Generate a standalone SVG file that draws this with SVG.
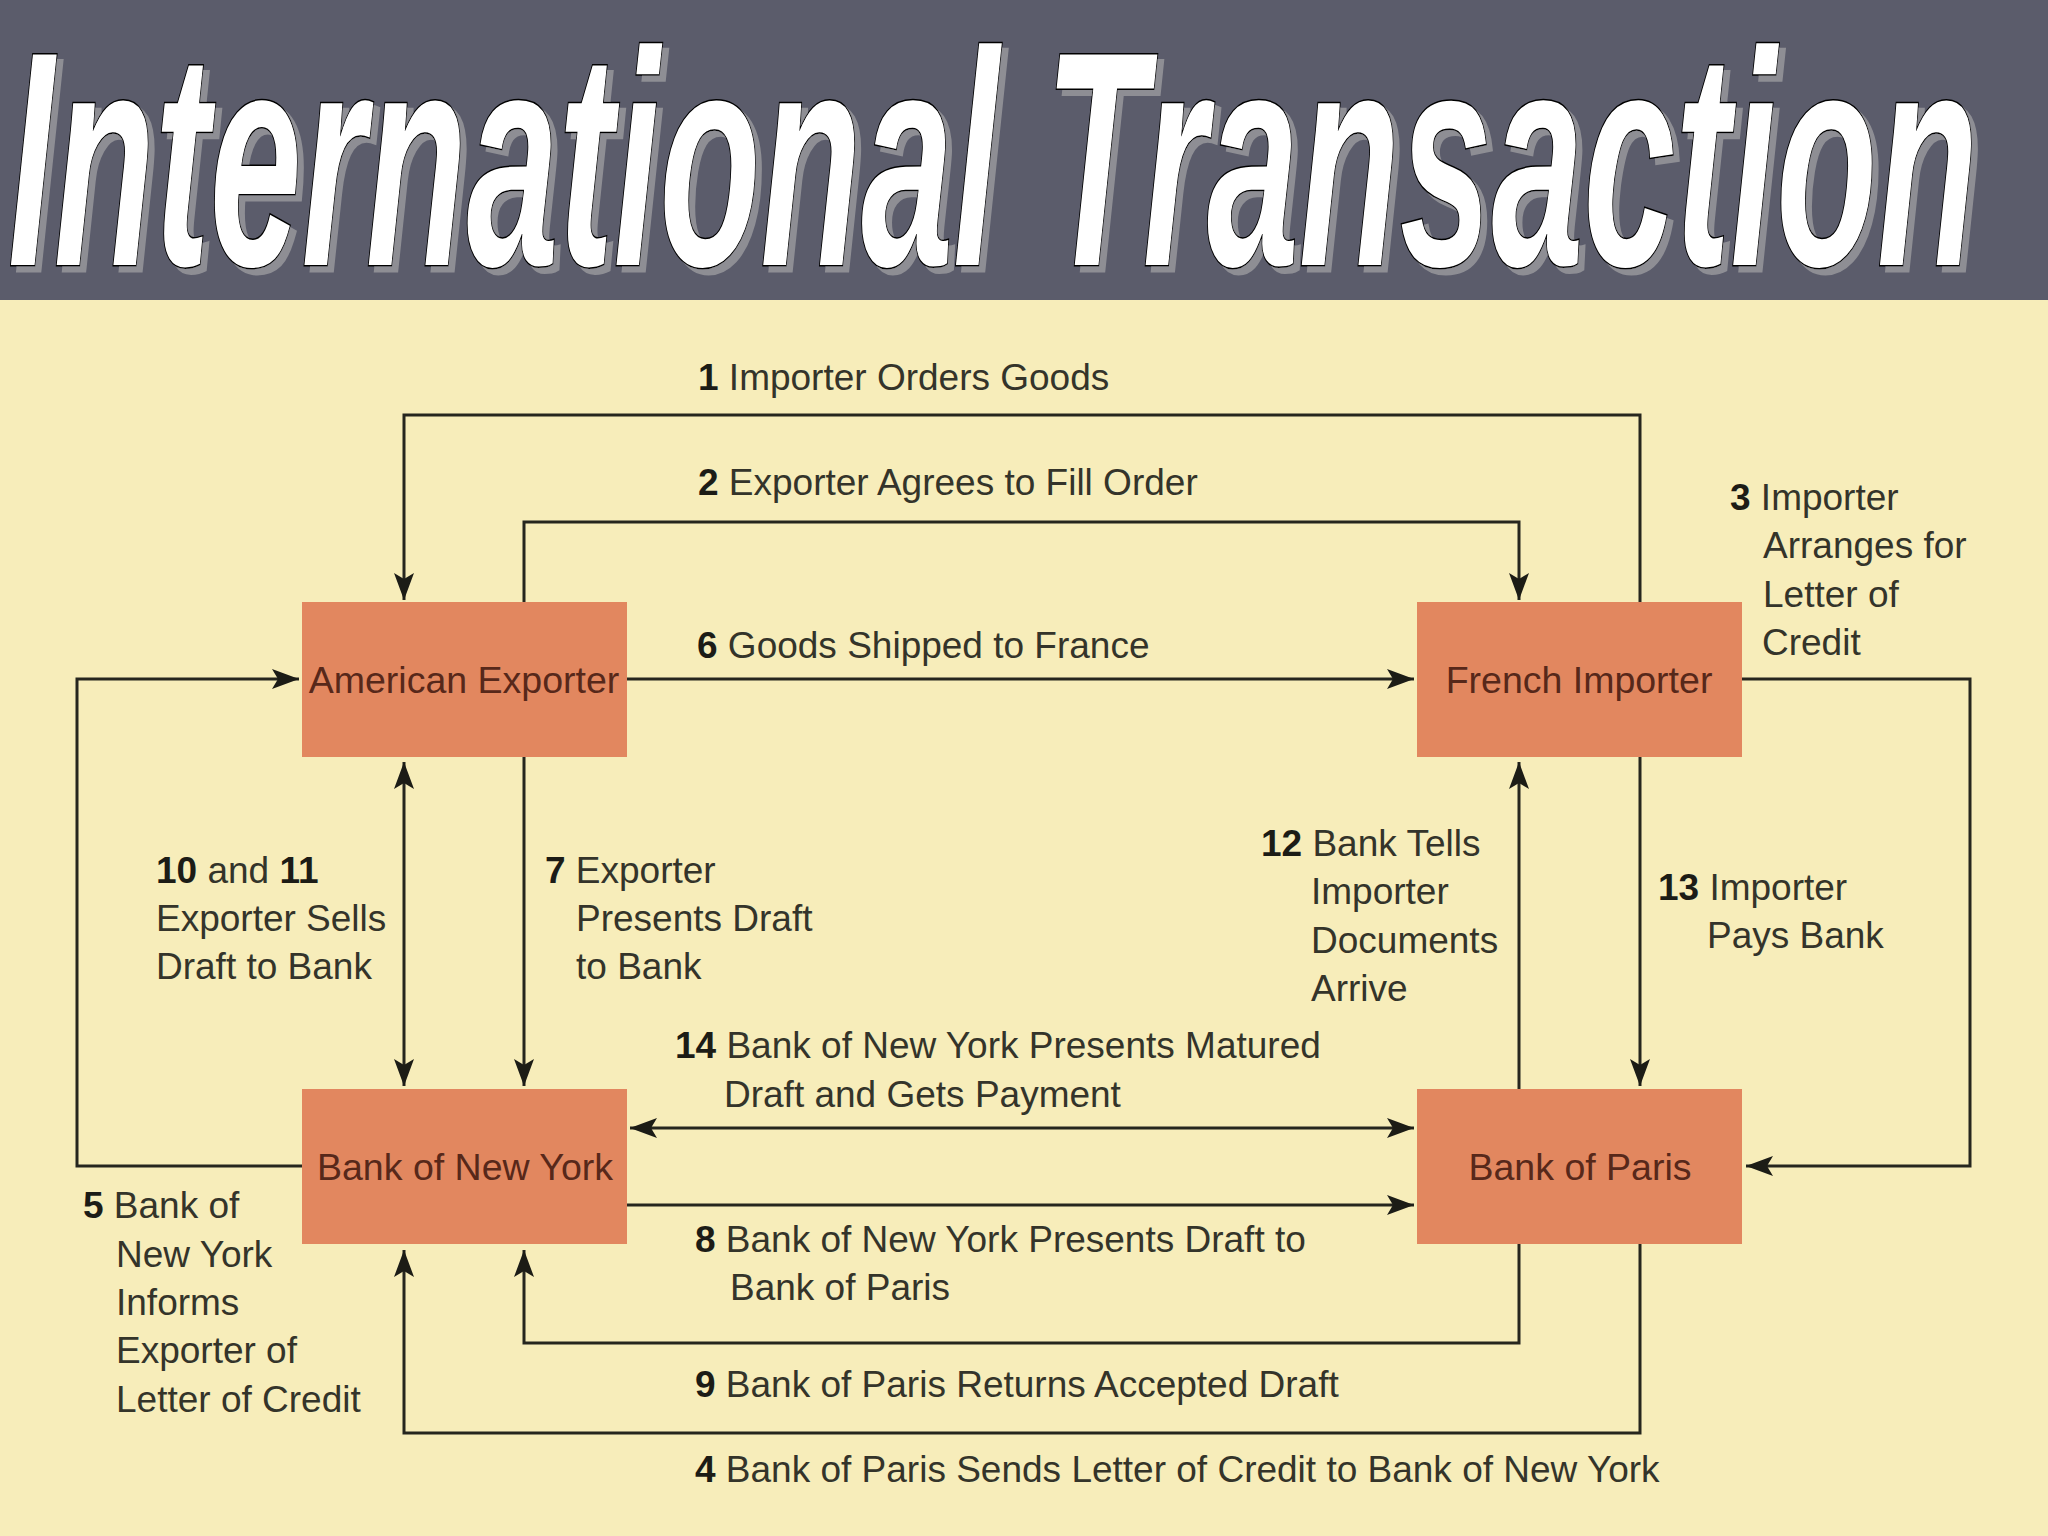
<svg xmlns="http://www.w3.org/2000/svg" width="2048" height="1536" viewBox="0 0 2048 1536">
  <defs>
    <style>
      .box { fill: #e2875f; }
      .boxtxt { font-family: "Liberation Sans", Arial, sans-serif; font-size: 37.5px; fill: #57281a; text-anchor: middle; }
      .lbl { font-family: "Liberation Sans", Arial, sans-serif; font-size: 37px; fill: #34342a; }
      .n { font-weight: bold; fill: #1c1c16; }
      .ln { fill: none; stroke: #26261e; stroke-width: 3; }
      .title { font-family: "Liberation Sans", Arial, sans-serif; font-size: 306px; font-weight: bold; font-style: italic; }
    </style>
    <filter id="shadow" x="-5%" y="-10%" width="110%" height="130%">
      <feOffset in="SourceAlpha" dx="6" dy="6" result="off"/>
      <feFlood flood-color="#8e8e94"/>
      <feComposite in2="off" operator="in" result="sh"/>
      <feMerge>
        <feMergeNode in="sh"/>
        <feMergeNode in="SourceGraphic"/>
      </feMerge>
    </filter>
    <marker id="ah" markerUnits="userSpaceOnUse" markerWidth="28" markerHeight="22" refX="27" refY="10" orient="auto-start-reverse" viewBox="0 0 28 20">
      <path d="M0,0 L27,10 L0,20 L6,10 Z" fill="#1c1c16"/>
    </marker>
  </defs>

  <rect x="0" y="0" width="2048" height="1536" fill="#f7edba"/>
  <g id="title-bar">
    <rect x="0" y="0" width="2048" height="300" fill="#5b5c6b"/>
    <text class="title" x="8" y="265" fill="#ffffff" stroke="#000000" stroke-width="3" paint-order="stroke" filter="url(#shadow)" textLength="1970" lengthAdjust="spacingAndGlyphs">International Transaction</text>
  </g>

  <g id="connectors">
    <g id="c1">
      <path class="ln" d="M1640,602 V415 H404 V600" marker-end="url(#ah)"/>
      <text class="lbl" x="698" y="390"><tspan class="n">1</tspan> Importer Orders Goods</text>
    </g>
    <g id="c2">
      <path class="ln" d="M524,602 V522 H1519 V600" marker-end="url(#ah)"/>
      <text class="lbl" x="698" y="495"><tspan class="n">2</tspan> Exporter Agrees to Fill Order</text>
    </g>
    <g id="c3">
      <path class="ln" d="M1742,679 H1970 V1166 H1746" marker-end="url(#ah)"/>
      <text class="lbl" x="1730" y="510"><tspan class="n">3</tspan> Importer</text>
      <text class="lbl" x="1763" y="558">Arranges for</text>
      <text class="lbl" x="1763" y="607">Letter of</text>
      <text class="lbl" x="1762" y="655">Credit</text>
    </g>
    <g id="c4">
      <path class="ln" d="M1640,1243 V1433 H404 V1250" marker-end="url(#ah)"/>
      <text class="lbl" x="695" y="1482"><tspan class="n">4</tspan> Bank of Paris Sends Letter of Credit to Bank of New York</text>
    </g>
    <g id="c5">
      <path class="ln" d="M302,1166 H77 V679 H299" marker-end="url(#ah)"/>
      <text class="lbl" x="83" y="1218"><tspan class="n">5</tspan> Bank of</text>
      <text class="lbl" x="116" y="1267">New York</text>
      <text class="lbl" x="116" y="1315">Informs</text>
      <text class="lbl" x="116" y="1363">Exporter of</text>
      <text class="lbl" x="116" y="1412">Letter of Credit</text>
    </g>
    <g id="c6">
      <path class="ln" d="M627,679 H1414" marker-end="url(#ah)"/>
      <text class="lbl" x="697" y="658"><tspan class="n">6</tspan> Goods Shipped to France</text>
    </g>
    <g id="c7">
      <path class="ln" d="M524,757 V1086" marker-end="url(#ah)"/>
      <text class="lbl" x="545" y="883"><tspan class="n">7</tspan> Exporter</text>
      <text class="lbl" x="576" y="931">Presents Draft</text>
      <text class="lbl" x="576" y="979">to Bank</text>
    </g>
    <g id="c8">
      <path class="ln" d="M627,1205 H1414" marker-end="url(#ah)"/>
      <text class="lbl" x="695" y="1252"><tspan class="n">8</tspan> Bank of New York Presents Draft to</text>
      <text class="lbl" x="730" y="1300">Bank of Paris</text>
    </g>
    <g id="c9">
      <path class="ln" d="M1519,1243 V1343 H524 V1250" marker-end="url(#ah)"/>
      <text class="lbl" x="695" y="1397"><tspan class="n">9</tspan> Bank of Paris Returns Accepted Draft</text>
    </g>
    <g id="c10-11">
      <path class="ln" d="M404,762 V1086" marker-start="url(#ah)" marker-end="url(#ah)"/>
      <text class="lbl" x="156" y="883"><tspan class="n">10</tspan> and <tspan class="n">11</tspan></text>
      <text class="lbl" x="156" y="931">Exporter Sells</text>
      <text class="lbl" x="156" y="979">Draft to Bank</text>
    </g>
    <g id="c12">
      <path class="ln" d="M1519,1089 V762" marker-end="url(#ah)"/>
      <text class="lbl" x="1261" y="856"><tspan class="n">12</tspan> Bank Tells</text>
      <text class="lbl" x="1311" y="904">Importer</text>
      <text class="lbl" x="1311" y="953">Documents</text>
      <text class="lbl" x="1311" y="1001">Arrive</text>
    </g>
    <g id="c13">
      <path class="ln" d="M1640,757 V1086" marker-end="url(#ah)"/>
      <text class="lbl" x="1658" y="900"><tspan class="n">13</tspan> Importer</text>
      <text class="lbl" x="1707" y="948">Pays Bank</text>
    </g>
    <g id="c14">
      <path class="ln" d="M630,1128 H1414" marker-start="url(#ah)" marker-end="url(#ah)"/>
      <text class="lbl" x="675" y="1058"><tspan class="n">14</tspan> Bank of New York Presents Matured</text>
      <text class="lbl" x="724" y="1107">Draft and Gets Payment</text>
    </g>
  </g>

  <g id="node-american-exporter">
    <rect class="box" x="302" y="602" width="325" height="155"/>
    <text class="boxtxt" x="464" y="693">American Exporter</text>
  </g>
  <g id="node-french-importer">
    <rect class="box" x="1417" y="602" width="325" height="155"/>
    <text class="boxtxt" x="1579" y="693">French Importer</text>
  </g>
  <g id="node-bank-of-new-york">
    <rect class="box" x="302" y="1089" width="325" height="155"/>
    <text class="boxtxt" x="465" y="1180">Bank of New York</text>
  </g>
  <g id="node-bank-of-paris">
    <rect class="box" x="1417" y="1089" width="325" height="155"/>
    <text class="boxtxt" x="1580" y="1180">Bank of Paris</text>
  </g>
</svg>
